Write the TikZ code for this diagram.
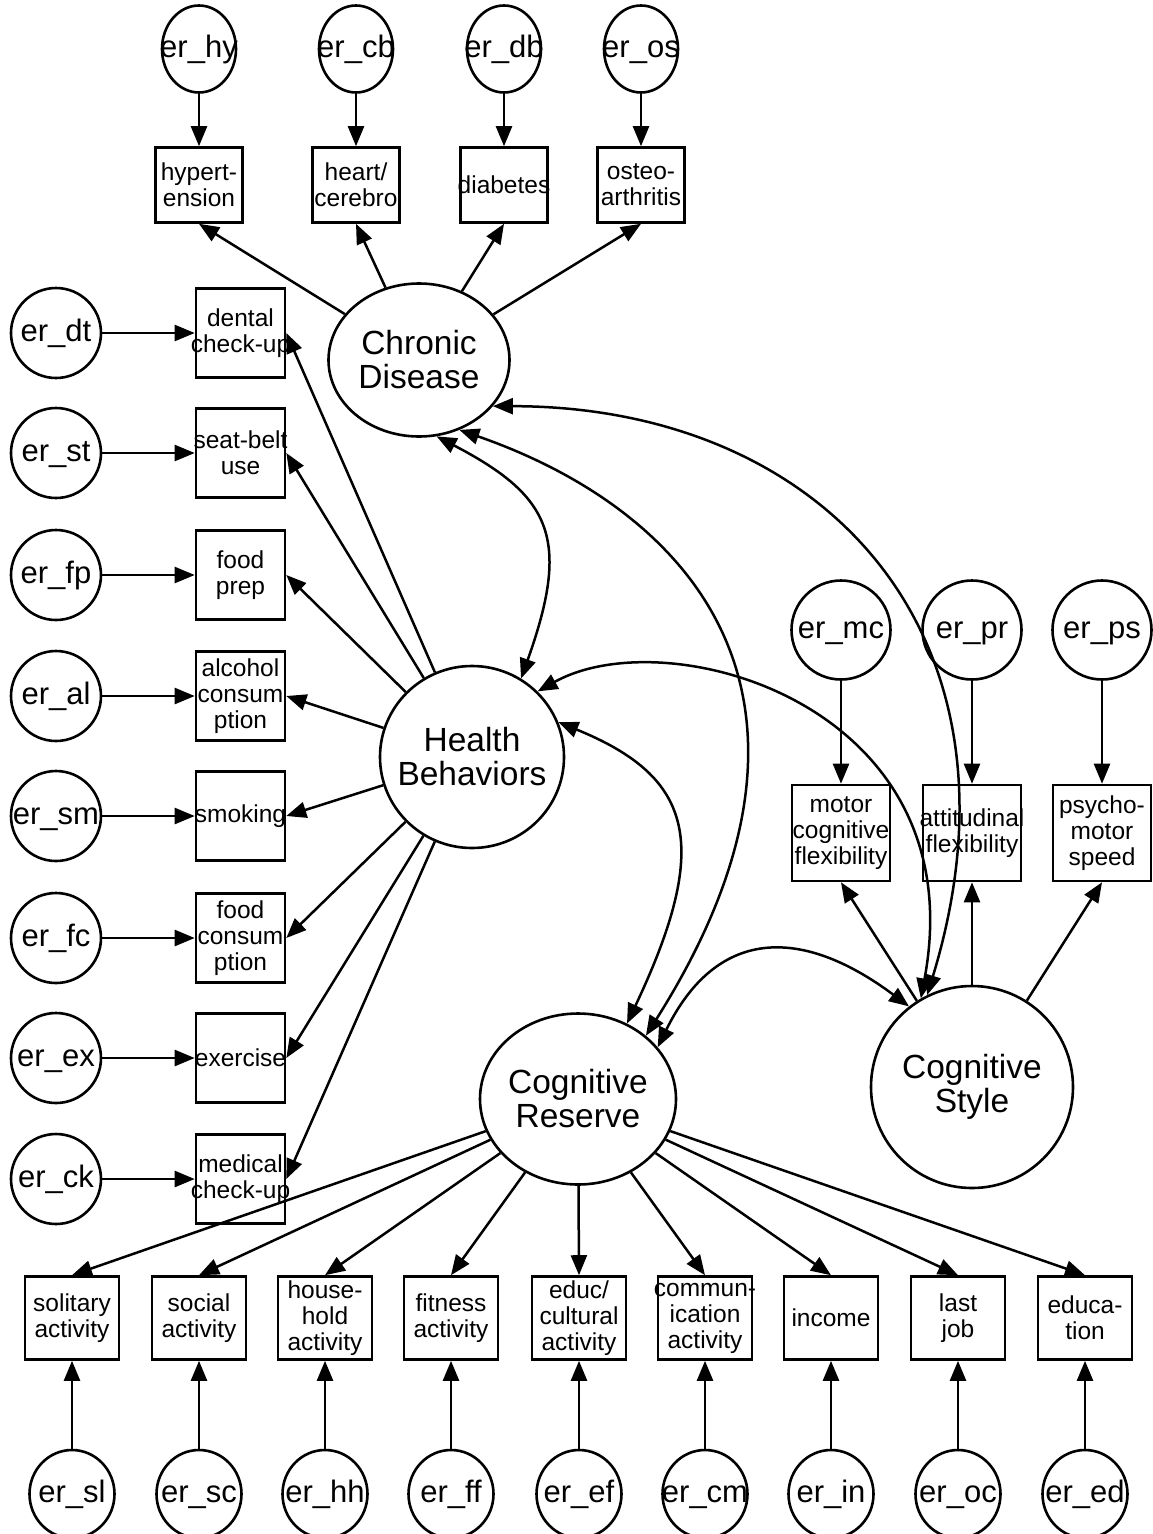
\documentclass[tikz,border=0pt]{standalone}
\usepackage{fontspec}
\setmainfont{Liberation Sans}
\usetikzlibrary{arrows.meta,shapes.geometric}

\begin{document}
\begin{tikzpicture}[x=1pt,y=-1pt,>={Triangle[length=20pt,width=16pt]},
  latent/.style={draw,ellipse,line width=2.6pt,inner xsep=-45pt,inner ysep=0pt,align=center,font=\fontsize{33.5}{34}\selectfont},
  errvar/.style={draw,ellipse,line width=2.6pt,inner xsep=-30pt,inner ysep=0pt,text height=22pt,text depth=6pt,font=\fontsize{31}{32}\selectfont},
  obsvar/.style={draw,rectangle,line width=2.6pt,inner xsep=-30pt,inner ysep=0pt,align=center,font=\fontsize{24.5}{26}\selectfont},
  load/.style={->,line width=2.5pt},
  cov/.style={<->,line width=2.5pt}]
  \useasboundingbox (0,0) rectangle (1153,1534);
  \node[latent,minimum width=181pt,minimum height=153pt] (CD) at (419,360) {Chronic\\Disease};
  \node[latent,minimum width=184pt,minimum height=182pt] (HB) at (472,757) {Health\\Behaviors};
  \node[latent,minimum width=196pt,minimum height=171pt] (CR) at (578,1099) {Cognitive\\Reserve};
  \node[latent,minimum size=202pt] (CS) at (972,1087) {Cognitive\\Style};
  \foreach \nm/\txt/\x in {hy/{hypert-\\ension}/199,cb/{heart/\\cerebro}/356,db/diabetes/504,os/{osteo-\\arthritis}/641}{
    \node[errvar,minimum width=74pt,minimum height=87pt] (er\nm) at (\x,49) {er\_\nm};
    \node[obsvar,minimum width=87pt,minimum height=75pt] (ob\nm) at (\x,185) {\txt};
    \draw[load] (er\nm) -- (ob\nm);
    \draw[load] (CD) -- (ob\nm.south);
  }
  \foreach \nm/\txt/\y in {dt/{dental\\check-up}/333,st/{seat-belt\\use}/453,fp/{food\\prep}/575,al/{alcohol\\consum\\ption}/696,sm/smoking/816,fc/{food\\consum\\ption}/938,ex/exercise/1058,ck/{medical\\check-up}/1179}{
    \node[errvar,minimum size=90pt] (er\nm) at (56,\y) {er\_\nm};
    \node[obsvar,minimum size=89pt] (ob\nm) at (240.5,\y) {\txt};
    \draw[load] (er\nm) -- (ob\nm);
    \draw[load] (HB) -- (ob\nm.east);
  }
  \foreach \nm/\txt/\x in {mc/{motor\\cognitive\\flexibility}/841,pr/{attitudinal\\flexibility}/972,ps/{psycho-\\motor\\speed}/1102}{
    \node[errvar,minimum size=99pt] (er\nm) at (\x,630) {er\_\nm};
    \node[obsvar,minimum width=98pt,minimum height=96pt] (ob\nm) at (\x,833) {\txt};
    \draw[load] (er\nm) -- (ob\nm);
    \draw[load] (CS) -- (ob\nm.south);
  }
  \foreach \nm/\txt/\x in {sl/{solitary\\activity}/72,sc/{social\\activity}/199,hh/{house-\\hold\\activity}/325,ff/{fitness\\activity}/451,ef/{educ/\\cultural\\activity}/579,cm/{commun-\\ication\\activity}/705,in/income/831,oc/{last\\job}/958,ed/{educa-\\tion}/1085}{
    \node[errvar,minimum width=85pt,minimum height=88pt] (er\nm) at (\x,1494) {er\_\nm};
    \node[obsvar,minimum width=94pt,minimum height=83pt] (ob\nm) at (\x,1318) {\txt};
    \draw[load] (er\nm) -- (ob\nm);
    \draw[load] (CR) -- (ob\nm.north);
  }
  \draw[cov] (CD.-77) .. controls +(115,60) and +(50,-140) .. (HB.58);
  \draw[cov] (CD.-60) .. controls +(230,80) and +(215,-340) .. (CR.43);
  \draw[cov] (CD.-32) .. controls +(330,0) and +(110,-361) .. (CS.116);
  \draw[cov] (HB.22) .. controls +(135,55) and +(85,-180) .. (CR.57);
  \draw[cov] (HB.45) .. controls +(131,-73) and +(55,-293) .. (CS.120);
  \draw[cov] (CR.33) .. controls +(58,-118) and +(-110,-82) .. (CS.128);
\end{tikzpicture}
\end{document}
